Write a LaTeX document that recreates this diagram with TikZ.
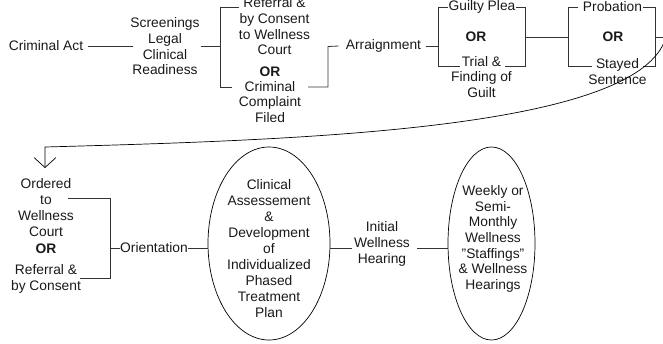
\documentclass[tikz,border=0pt]{standalone}
\usepackage{fontspec}
\setmainfont{Liberation Sans}
\usetikzlibrary{arrows.meta,shapes.geometric}
\begin{document}
\begin{tikzpicture}[x=1pt,y=-1pt,
  txt/.style={inner sep=0pt,align=center,text=black!90,font=\fontsize{13.8}{15.7}\selectfont},
  txtw/.style={inner sep=0pt,align=center,text=black!90,font=\fontsize{13.8}{16}\selectfont},
  orb/.style={inner sep=0pt,align=center,text=black!90,font=\fontsize{13.8}{15.7}\selectfont\bfseries},
  ln/.style={draw=black!80,line width=0.8pt},
  cv/.style={draw=black,line width=0.7pt},
  oval/.style={ellipse,draw=black,line width=0.7pt,inner sep=0pt}]
\useasboundingbox (0,0) rectangle (663,343);
% ---- top row ----
\node[txt] (ca) at (46,46) {Criminal Act};
\node[txt] (scr) at (165,46.5) {Screenings\\Legal\\Clinical\\Readiness};
\node[txt] (ref) at (274.5,26.5) {Referral \&\\by Consent\\to Wellness\\Court};
\node[orb] (or1) at (270,71.7) {OR};
\node[txt] (crim) at (270,102) {Criminal\\Complaint\\Filed};
\node[txt] (arr) at (383.5,46) {Arraignment};
\node[txt] (gp) at (482,7) {Guilty Plea};
\node[orb] (or2) at (476,37) {OR};
\node[txt] (trial) at (481.5,77) {Trial \&\\Finding of\\Guilt};
\node[txt] (prob) at (612.5,7) {Probation};
\node[orb] (or3) at (613,37) {OR};
\node[txt] (stay) at (617.5,71.7) {Stayed\\Sentence};
% ---- bottom row ----
\node[txtw] (ord) at (46,208) {Ordered\\to\\Wellness\\Court};
\node[orb] (or4) at (46,249) {OR};
\node[txt] (ref2) at (46,279.2) {Referral \&\\by Consent};
\node[txt] (orient) at (154,248) {Orientation};
\node[oval,minimum width=122pt,minimum height=193pt] (e1) at (269,243.5) {};
\node[txtw] (e1t) at (269,249) {Clinical\\Assessement\\\&\\Development\\of\\Individualized\\Phased\\Treatment\\Plan};
\node[txtw] (iwh) at (382,244) {Initial\\Wellness\\Hearing};
\node[oval,minimum width=87pt,minimum height=193pt] (e2) at (491.5,243.5) {};
\node[txt] (e2t) at (493,239) {Weekly or\\Semi-\\Monthly\\Wellness\\\symbol{34}Staffings\symbol{34}\\\& Wellness\\Hearings};
\coordinate (tip) at (45,168);
% ---- connectors top row ----
\draw[ln] ([xshift=5]ca.east) -- (133,46);
\draw[ln] (200.5,46) -- (220,46);
\draw[ln] (239,7) -- (220,7) -- (220,87) -- (232,87);
\draw[ln] (308,87) -- (328,87) -- (328,46.5) -- ([xshift=-7]arr.west);
\draw[ln] ([xshift=5]arr.east) -- (438,46);
\draw[ln] (448,7) -- (438,7) -- (438,66) -- (460,66);
\draw[ln] (516,7) -- (525,7) -- (525,66) -- (505,66);
\draw[ln] (525,37) -- (568,37);
\draw[ln] (578,7) -- (568,7) -- (568,66) -- (592,66);
\draw[ln] (643,7) -- (655,7) -- (655,66) -- (643,66);
\draw[ln] (655,37) -- (666,37);
\draw[cv,-{Straight Barb[length=10pt,width=22pt]}] (666,37) .. controls (640,130) and (300,140) .. (45,147) -- (tip);
% ---- connectors bottom row ----
\draw[ln] (68,198) -- (110,198) -- (110,278) -- (80,278);
\draw[ln] (110,248) -- (orient.west);
\draw[ln] (orient.east) -- (208.3,248);
\draw[ln] (330,248) -- (352,248);
\draw[ln] (417,248) -- (448.3,248);
\end{tikzpicture}
\end{document}
